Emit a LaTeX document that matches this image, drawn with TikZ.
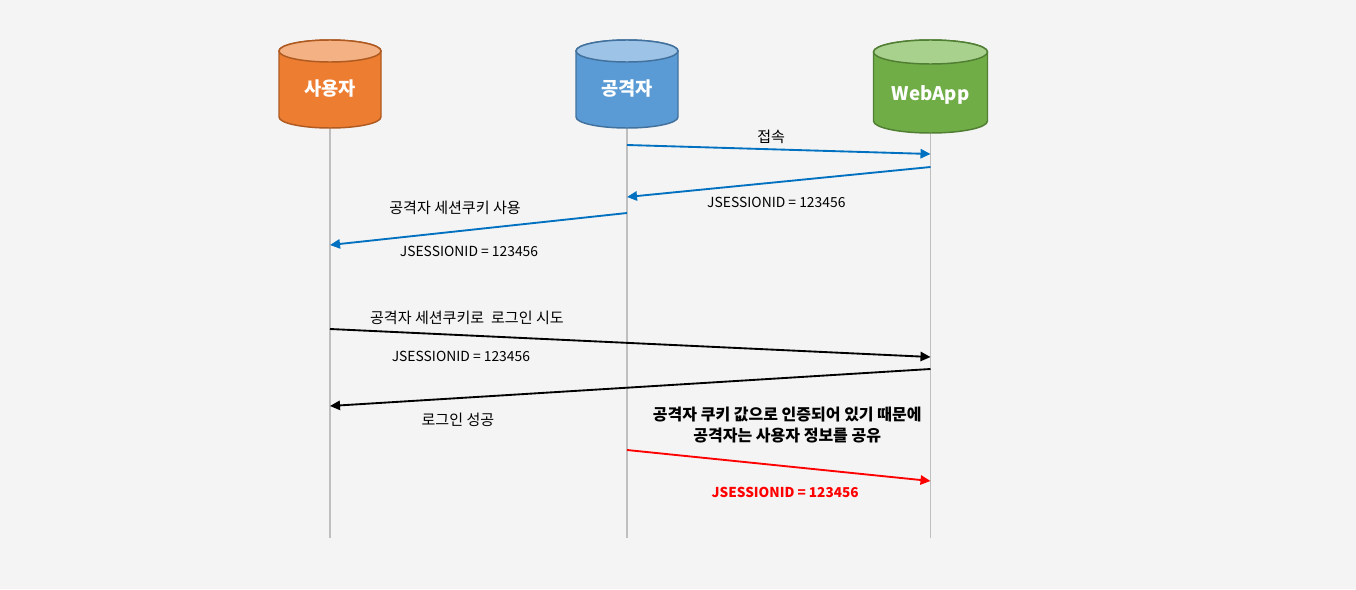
\documentclass[tikz,border=0pt]{standalone}
\usepackage{fontspec}
\setmainfont{Noto Sans CJK KR}
\usetikzlibrary{arrows.meta}
\definecolor{bg}{HTML}{F4F4F4}
\definecolor{usrbody}{HTML}{ED7D31}
\definecolor{usrtop}{HTML}{F4B183}
\definecolor{usrrim}{HTML}{AE5A21}
\definecolor{atkbody}{HTML}{5B9BD5}
\definecolor{atktop}{HTML}{9DC3E6}
\definecolor{atkrim}{HTML}{41719C}
\definecolor{webbody}{HTML}{70AD47}
\definecolor{webtop}{HTML}{A9D18E}
\definecolor{webrim}{HTML}{507E32}
\definecolor{msgblue}{HTML}{0070C0}
\definecolor{lifegray}{HTML}{BFBFBF}
\begin{document}
\begin{tikzpicture}[x=0.75pt, y=-0.75pt,
    every node/.style={font=\fontsize{11.3pt}{13pt}\selectfont, inner sep=0pt},
    idtext/.style={font=\fontsize{10.4pt}{13pt}\selectfont},
    cyltext/.style={text=white, font=\fontsize{14pt}{16pt}\selectfont\bfseries},
    lifeline/.style={draw=lifegray, line width=1.2pt},
    msg/.style={line width=1.4pt, -{Triangle[length=7.5pt, width=7pt]}},
    note/.style={align=center, font=\fontsize{12pt}{15.75pt}\selectfont\bfseries}]

    % Background
    \fill[bg] (0,0) rectangle (1356,589);

    % Lifelines
    \draw[lifeline] (330,128) -- (330,538);
    \draw[lifeline] (627,128) -- (627,538);
    \draw[lifeline] (930.5,133) -- (930.5,538);

    % Cylinders
    \foreach \x/\r/\ry/\b/\c in {330/51/11/128/usr, 627/51/11/128/atk, 930.5/57/12/133/web} {
        \filldraw[fill=\c body, draw=\c rim, line width=1.1pt]
            (\x-\r,40+\ry) -- (\x-\r,\b-\ry)
            arc[start angle=180, end angle=0, x radius=\r, y radius=\ry]
            -- (\x+\r,40+\ry)
            arc[start angle=0, end angle=-180, x radius=\r, y radius=\ry] -- cycle;
        \filldraw[fill=\c top, draw=\c rim, line width=1.1pt]
            (\x,40+\ry) ellipse[x radius=\r, y radius=\ry];
    }

    % Nodes
    \node[cyltext] (user) at (330,89) {사용자};
    \node[cyltext] (attacker) at (627,89) {공격자};
    \node[cyltext] (webapp) at (930.5,95) {WebApp};

    % Edges
    \draw[msg, msgblue] (attacker |- 0,145) -- (webapp |- 0,154)
        node[pos=0.475, yshift=9.2pt, text=black] {접속};
    \draw[msg, msgblue] (webapp |- 0,167) -- (attacker |- 0,197)
        node[pos=0.508, yshift=-14.9pt, text=black, idtext] {JSESSIONID = 123456};
    \draw[msg, msgblue] (attacker |- 0,213) -- (user |- 0,245)
        node[pos=0.579, yshift=17.6pt, text=black] {공격자 세션쿠키 사용}
        node[pos=0.532, yshift=-15.8pt, text=black, idtext] {JSESSIONID = 123456};
    \draw[msg] (user |- 0,329) -- (webapp |- 0,357)
        node[pos=0.228, yshift=13pt] {공격자 세션쿠키로 \ 로그인 시도}
        node[pos=0.218, yshift=-15.7pt, idtext] {JSESSIONID = 123456};
    \draw[msg] (webapp |- 0,369) -- (user |- 0,406)
        node[pos=0.787, yshift=-16.4pt] {로그인 성공};
    \draw[msg, red] (attacker |- 0,450) -- (webapp |- 0,481)
        node[pos=0.528, yshift=31pt, note, text=black] {공격자 쿠키 값으로 인증되어 있기 때문에\\공격자는 사용자 정보를 공유}
        node[pos=0.521, yshift=-19.4pt, font=\fontsize{10.2pt}{13pt}\selectfont\bfseries] {JSESSIONID = 123456};

\end{tikzpicture}
\end{document}
